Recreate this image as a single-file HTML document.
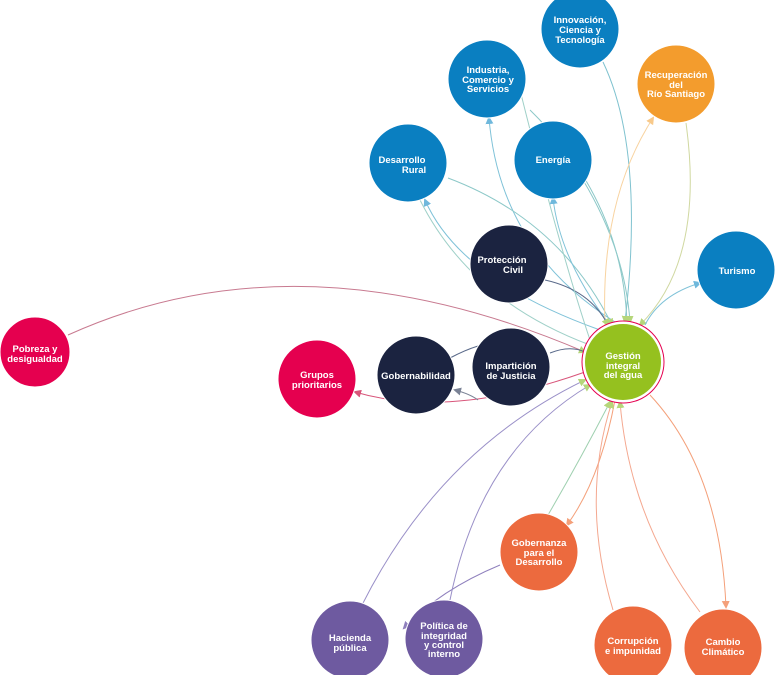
<!DOCTYPE html>
<html><head><meta charset="utf-8"><style>
html,body{margin:0;padding:0;background:#fff;width:776px;height:675px;overflow:hidden}
svg text{font-family:"Liberation Sans",sans-serif;font-weight:bold;font-size:9.5px;fill:#fff;text-anchor:middle}
</style></head><body>
<svg width="776" height="675" viewBox="0 0 776 675" xmlns="http://www.w3.org/2000/svg">
<defs>
<marker id="ab" markerWidth="8" markerHeight="8" refX="6" refY="4" orient="auto"><path d="M0,0 L8,4 L0,8z" fill="#6fb8dc"/></marker>
<marker id="ag" markerWidth="8" markerHeight="8" refX="6" refY="4" orient="auto"><path d="M0,0 L8,4 L0,8z" fill="#b5d67a"/></marker>
<marker id="ao" markerWidth="8" markerHeight="8" refX="6" refY="4" orient="auto"><path d="M0,0 L8,4 L0,8z" fill="#f4a07a"/></marker>
<marker id="ay" markerWidth="8" markerHeight="8" refX="6" refY="4" orient="auto"><path d="M0,0 L8,4 L0,8z" fill="#f8c98a"/></marker>
<marker id="ar" markerWidth="8" markerHeight="8" refX="6" refY="4" orient="auto"><path d="M0,0 L8,4 L0,8z" fill="#d8557a"/></marker>
<marker id="an" markerWidth="8" markerHeight="8" refX="6" refY="4" orient="auto"><path d="M0,0 L8,4 L0,8z" fill="#7a8295"/></marker>
<marker id="ap" markerWidth="8" markerHeight="8" refX="6" refY="4" orient="auto"><path d="M0,0 L8,4 L0,8z" fill="#8f80bd"/></marker>
</defs>
<g fill="none" stroke-width="1">
<path d="M603 62 Q645 150 625 322" stroke="#7fc2cf" marker-end="url(#ag)"/>
<path d="M615 322 Q500 250 489 118" stroke="#7fc2d8" marker-end="url(#ab)"/>
<path d="M530 110 Q622 200 627 322" stroke="#8cc8c8" marker-end="url(#ag)"/>
<path d="M600 330 Q460 280 425 200" stroke="#7fc2d8" marker-end="url(#ab)"/>
<path d="M448 178 Q560 220 612 325" stroke="#8cc8c8" marker-end="url(#ag)"/>
<path d="M610 325 Q560 260 553 198" stroke="#7fc2d8" marker-end="url(#ab)"/>
<path d="M583 180 Q625 250 630 322" stroke="#8cc8c8" marker-end="url(#ag)"/>
<path d="M605 325 Q600 200 653 118" stroke="#f8d3a0" marker-end="url(#ay)"/>
<path d="M686 123 Q705 260 640 325" stroke="#d0d8a0" marker-end="url(#ag)"/>
<path d="M645 325 Q660 295 700 283" stroke="#7fc2d8" marker-end="url(#ab)"/>
<path d="M545 280 Q590 290 608 325" stroke="#5a6a8a" marker-end="url(#ag)"/>
<path d="M68 335 Q300 230 585 352" stroke="#c87a90" marker-end="url(#ag)"/>
<path d="M585 372 Q450 420 355 392" stroke="#d8557a" marker-end="url(#ar)"/>
<path d="M450 358 Q465 350 478 346" stroke="#5a6a8a"/>
<path d="M478 400 Q470 394 455 390" stroke="#7a8295" marker-end="url(#an)"/>
<path d="M550 353 Q570 345 585 352" stroke="#5a6a8a"/>
<path d="M615 400 Q600 480 567 525" stroke="#f4a07a" marker-end="url(#ao)"/>
<path d="M548 515 Q580 460 610 402" stroke="#9fd0b0" marker-end="url(#ag)"/>
<path d="M500 565 Q440 590 404 628" stroke="#8f80bd" marker-end="url(#ap)"/>
<path d="M362 605 Q440 450 585 380" stroke="#9a90c8" marker-end="url(#ag)"/>
<path d="M450 600 Q480 450 590 385" stroke="#9a90c8" marker-end="url(#ag)"/>
<path d="M613 610 Q580 500 612 402" stroke="#f4a890" marker-end="url(#ag)"/>
<path d="M700 612 Q630 520 620 402" stroke="#f4a890" marker-end="url(#ag)"/>
<path d="M650 395 Q720 470 726 607" stroke="#f4a07a" marker-end="url(#ao)"/>
<path d="M520 90 Q560 250 590 340" stroke="#9fd0c8"/>
<path d="M420 200 Q470 300 590 345" stroke="#9fd0c8"/>
</g>
<g stroke="#fff" stroke-width="1">
<circle cx="580" cy="29" r="39" fill="#0a7fc1"/>
<circle cx="487" cy="79" r="39" fill="#0a7fc1"/>
<circle cx="676" cy="84" r="39" fill="#f39c2d"/>
<circle cx="408" cy="163" r="39" fill="#0a7fc1"/>
<circle cx="553" cy="160" r="39" fill="#0a7fc1"/>
<circle cx="509" cy="264" r="39" fill="#1b2340"/>
<circle cx="736" cy="270" r="39" fill="#0a7fc1"/>
<circle cx="35" cy="352" r="35" fill="#e5004f"/>
<circle cx="317" cy="379" r="39" fill="#e5004f"/>
<circle cx="416" cy="375" r="39" fill="#1b2340"/>
<circle cx="511" cy="367" r="39" fill="#1b2340"/>
<circle cx="539" cy="552" r="39" fill="#ec6a3e"/>
<circle cx="350" cy="640" r="39" fill="#6e5aa0"/>
<circle cx="444" cy="639" r="39" fill="#6e5aa0"/>
<circle cx="633" cy="645" r="39" fill="#ec6a3e"/>
<circle cx="723" cy="648" r="39" fill="#ec6a3e"/>
</g>
<circle cx="623" cy="362" r="41" fill="#fff" stroke="#e5004f" stroke-width="1"/>
<circle cx="623" cy="362" r="38" fill="#95c11f"/>
<text x="580" y="23">Innovación,</text><text x="580" y="33">Ciencia y</text><text x="580" y="43">Tecnología</text>
<text x="488" y="73">Industria,</text><text x="488" y="83">Comercio y</text><text x="488" y="92">Servicios</text>
<text x="676" y="78">Recuperación</text><text x="676" y="88">del</text><text x="676" y="97">Río Santiago</text>
<text x="402" y="163">Desarrollo</text><text x="414" y="173">Rural</text>
<text x="553" y="163">Energía</text>
<text x="502" y="263">Protección</text><text x="513" y="273">Civil</text>
<text x="737" y="274">Turismo</text>
<text x="35" y="352">Pobreza y</text><text x="35" y="362">desigualdad</text>
<text x="317" y="378">Grupos</text><text x="317" y="388">prioritarios</text>
<text x="416" y="379">Gobernabilidad</text>
<text x="511" y="369">Impartición</text><text x="511" y="379">de Justicia</text>
<text x="623" y="359">Gestión</text><text x="623" y="369">integral</text><text x="623" y="378">del agua</text>
<text x="539" y="546">Gobernanza</text><text x="539" y="556">para el</text><text x="539" y="565">Desarrollo</text>
<text x="350" y="641">Hacienda</text><text x="350" y="651">pública</text>
<text x="444" y="629">Política de</text><text x="444" y="639">integridad</text><text x="444" y="648">y control</text><text x="444" y="657">interno</text>
<text x="633" y="644">Corrupción</text><text x="633" y="654">e impunidad</text>
<text x="723" y="645">Cambio</text><text x="723" y="655">Climático</text>
</svg>
</body></html>
